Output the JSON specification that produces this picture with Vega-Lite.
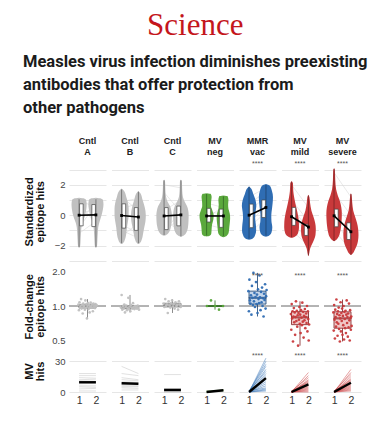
{
"$schema":"https://vega.github.io/schema/vega-lite/v6.json",
"background":"#ffffff",
"padding":{"left":22,"top":9,"right":5,"bottom":4},
"title":{"text":"Science","font":"Liberation Serif","fontSize":31,"fontWeight":"normal","color":"#c4161c","anchor":"middle","offset":12},
"config":{"font":"Liberation Sans","view":{"stroke":null},
"axis":{"domain":false,"ticks":false,"labelOverlap":false,"labelFont":"Liberation Sans","labelColor":"#444444","labelFontSize":9.5,"gridColor":"#e6e6e6","titleFont":"Liberation Sans","titleFontWeight":"bold","titleFontSize":11,"titleColor":"#111111","titleLineHeight":11}},
"spacing":0,
"datasets":{
"top":[
{"s":"vio","g":"Cntl A","t":1,"v":1.15,"w":0},{"s":"vio","g":"Cntl A","t":1,"v":1.1,"w":0.3},{"s":"vio","g":"Cntl A","t":1,"v":1.0,"w":0.42},{"s":"vio","g":"Cntl A","t":1,"v":0.7,"w":0.45},{"s":"vio","g":"Cntl A","t":1,"v":0.4,"w":0.43},{"s":"vio","g":"Cntl A","t":1,"v":0.1,"w":0.38},{"s":"vio","g":"Cntl A","t":1,"v":-0.2,"w":0.3},{"s":"vio","g":"Cntl A","t":1,"v":-0.5,"w":0.2},{"s":"vio","g":"Cntl A","t":1,"v":-0.8,"w":0.14},{"s":"vio","g":"Cntl A","t":1,"v":-1.2,"w":0.11},{"s":"vio","g":"Cntl A","t":1,"v":-1.6,"w":0.09},{"s":"vio","g":"Cntl A","t":1,"v":-2.0,"w":0.07},{"s":"vio","g":"Cntl A","t":1,"v":-2.15,"w":0},
{"s":"vio","g":"Cntl A","t":2,"v":1.15,"w":0},{"s":"vio","g":"Cntl A","t":2,"v":1.1,"w":0.3},{"s":"vio","g":"Cntl A","t":2,"v":1.0,"w":0.42},{"s":"vio","g":"Cntl A","t":2,"v":0.7,"w":0.45},{"s":"vio","g":"Cntl A","t":2,"v":0.4,"w":0.42},{"s":"vio","g":"Cntl A","t":2,"v":0.1,"w":0.36},{"s":"vio","g":"Cntl A","t":2,"v":-0.2,"w":0.28},{"s":"vio","g":"Cntl A","t":2,"v":-0.5,"w":0.2},{"s":"vio","g":"Cntl A","t":2,"v":-0.8,"w":0.14},{"s":"vio","g":"Cntl A","t":2,"v":-1.2,"w":0.11},{"s":"vio","g":"Cntl A","t":2,"v":-1.6,"w":0.09},{"s":"vio","g":"Cntl A","t":2,"v":-2.0,"w":0.07},{"s":"vio","g":"Cntl A","t":2,"v":-2.15,"w":0},
{"s":"vio","g":"Cntl B","t":1,"v":1.75,"w":0},{"s":"vio","g":"Cntl B","t":1,"v":1.6,"w":0.15},{"s":"vio","g":"Cntl B","t":1,"v":1.2,"w":0.28},{"s":"vio","g":"Cntl B","t":1,"v":0.8,"w":0.38},{"s":"vio","g":"Cntl B","t":1,"v":0.4,"w":0.42},{"s":"vio","g":"Cntl B","t":1,"v":0,"w":0.42},{"s":"vio","g":"Cntl B","t":1,"v":-0.4,"w":0.38},{"s":"vio","g":"Cntl B","t":1,"v":-0.8,"w":0.32},{"s":"vio","g":"Cntl B","t":1,"v":-1.2,"w":0.28},{"s":"vio","g":"Cntl B","t":1,"v":-1.6,"w":0.2},{"s":"vio","g":"Cntl B","t":1,"v":-1.85,"w":0.08},{"s":"vio","g":"Cntl B","t":1,"v":-1.9,"w":0},
{"s":"vio","g":"Cntl B","t":2,"v":1.6,"w":0},{"s":"vio","g":"Cntl B","t":2,"v":1.45,"w":0.12},{"s":"vio","g":"Cntl B","t":2,"v":1.0,"w":0.25},{"s":"vio","g":"Cntl B","t":2,"v":0.5,"w":0.38},{"s":"vio","g":"Cntl B","t":2,"v":0,"w":0.44},{"s":"vio","g":"Cntl B","t":2,"v":-0.4,"w":0.42},{"s":"vio","g":"Cntl B","t":2,"v":-0.8,"w":0.35},{"s":"vio","g":"Cntl B","t":2,"v":-1.2,"w":0.28},{"s":"vio","g":"Cntl B","t":2,"v":-1.6,"w":0.2},{"s":"vio","g":"Cntl B","t":2,"v":-1.85,"w":0.08},{"s":"vio","g":"Cntl B","t":2,"v":-1.9,"w":0},
{"s":"vio","g":"Cntl C","t":1,"v":2.35,"w":0},{"s":"vio","g":"Cntl C","t":1,"v":2.2,"w":0.06},{"s":"vio","g":"Cntl C","t":1,"v":1.6,"w":0.08},{"s":"vio","g":"Cntl C","t":1,"v":1.2,"w":0.12},{"s":"vio","g":"Cntl C","t":1,"v":0.9,"w":0.2},{"s":"vio","g":"Cntl C","t":1,"v":0.6,"w":0.35},{"s":"vio","g":"Cntl C","t":1,"v":0.3,"w":0.43},{"s":"vio","g":"Cntl C","t":1,"v":0,"w":0.46},{"s":"vio","g":"Cntl C","t":1,"v":-0.4,"w":0.45},{"s":"vio","g":"Cntl C","t":1,"v":-0.8,"w":0.4},{"s":"vio","g":"Cntl C","t":1,"v":-1.1,"w":0.3},{"s":"vio","g":"Cntl C","t":1,"v":-1.3,"w":0.12},{"s":"vio","g":"Cntl C","t":1,"v":-1.35,"w":0},
{"s":"vio","g":"Cntl C","t":2,"v":2.35,"w":0},{"s":"vio","g":"Cntl C","t":2,"v":2.2,"w":0.06},{"s":"vio","g":"Cntl C","t":2,"v":1.6,"w":0.08},{"s":"vio","g":"Cntl C","t":2,"v":1.2,"w":0.12},{"s":"vio","g":"Cntl C","t":2,"v":0.9,"w":0.22},{"s":"vio","g":"Cntl C","t":2,"v":0.6,"w":0.36},{"s":"vio","g":"Cntl C","t":2,"v":0.3,"w":0.44},{"s":"vio","g":"Cntl C","t":2,"v":0,"w":0.46},{"s":"vio","g":"Cntl C","t":2,"v":-0.4,"w":0.45},{"s":"vio","g":"Cntl C","t":2,"v":-0.8,"w":0.42},{"s":"vio","g":"Cntl C","t":2,"v":-1.1,"w":0.34},{"s":"vio","g":"Cntl C","t":2,"v":-1.35,"w":0.15},{"s":"vio","g":"Cntl C","t":2,"v":-1.42,"w":0},
{"s":"vio","g":"MV neg","t":1,"v":1.45,"w":0},{"s":"vio","g":"MV neg","t":1,"v":1.4,"w":0.25},{"s":"vio","g":"MV neg","t":1,"v":1.2,"w":0.3},{"s":"vio","g":"MV neg","t":1,"v":0.9,"w":0.27},{"s":"vio","g":"MV neg","t":1,"v":0.6,"w":0.26},{"s":"vio","g":"MV neg","t":1,"v":0.3,"w":0.35},{"s":"vio","g":"MV neg","t":1,"v":0,"w":0.42},{"s":"vio","g":"MV neg","t":1,"v":-0.3,"w":0.4},{"s":"vio","g":"MV neg","t":1,"v":-0.6,"w":0.33},{"s":"vio","g":"MV neg","t":1,"v":-0.9,"w":0.3},{"s":"vio","g":"MV neg","t":1,"v":-1.2,"w":0.28},{"s":"vio","g":"MV neg","t":1,"v":-1.35,"w":0.18},{"s":"vio","g":"MV neg","t":1,"v":-1.4,"w":0},
{"s":"vio","g":"MV neg","t":2,"v":1.3,"w":0},{"s":"vio","g":"MV neg","t":2,"v":1.25,"w":0.25},{"s":"vio","g":"MV neg","t":2,"v":1.0,"w":0.3},{"s":"vio","g":"MV neg","t":2,"v":0.7,"w":0.28},{"s":"vio","g":"MV neg","t":2,"v":0.4,"w":0.3},{"s":"vio","g":"MV neg","t":2,"v":0.1,"w":0.38},{"s":"vio","g":"MV neg","t":2,"v":-0.2,"w":0.4},{"s":"vio","g":"MV neg","t":2,"v":-0.5,"w":0.38},{"s":"vio","g":"MV neg","t":2,"v":-0.8,"w":0.35},{"s":"vio","g":"MV neg","t":2,"v":-1.1,"w":0.32},{"s":"vio","g":"MV neg","t":2,"v":-1.35,"w":0.2},{"s":"vio","g":"MV neg","t":2,"v":-1.45,"w":0},
{"s":"vio","g":"MMR vac","t":1,"v":1.9,"w":0},{"s":"vio","g":"MMR vac","t":1,"v":1.75,"w":0.12},{"s":"vio","g":"MMR vac","t":1,"v":1.4,"w":0.25},{"s":"vio","g":"MMR vac","t":1,"v":1.0,"w":0.38},{"s":"vio","g":"MMR vac","t":1,"v":0.6,"w":0.43},{"s":"vio","g":"MMR vac","t":1,"v":0.2,"w":0.38},{"s":"vio","g":"MMR vac","t":1,"v":-0.2,"w":0.36},{"s":"vio","g":"MMR vac","t":1,"v":-0.6,"w":0.4},{"s":"vio","g":"MMR vac","t":1,"v":-1.0,"w":0.42},{"s":"vio","g":"MMR vac","t":1,"v":-1.3,"w":0.36},{"s":"vio","g":"MMR vac","t":1,"v":-1.55,"w":0.2},{"s":"vio","g":"MMR vac","t":1,"v":-1.62,"w":0},
{"s":"vio","g":"MMR vac","t":2,"v":2.05,"w":0},{"s":"vio","g":"MMR vac","t":2,"v":1.95,"w":0.22},{"s":"vio","g":"MMR vac","t":2,"v":1.6,"w":0.36},{"s":"vio","g":"MMR vac","t":2,"v":1.2,"w":0.42},{"s":"vio","g":"MMR vac","t":2,"v":0.8,"w":0.4},{"s":"vio","g":"MMR vac","t":2,"v":0.4,"w":0.36},{"s":"vio","g":"MMR vac","t":2,"v":0,"w":0.32},{"s":"vio","g":"MMR vac","t":2,"v":-0.4,"w":0.33},{"s":"vio","g":"MMR vac","t":2,"v":-0.8,"w":0.38},{"s":"vio","g":"MMR vac","t":2,"v":-1.1,"w":0.34},{"s":"vio","g":"MMR vac","t":2,"v":-1.35,"w":0.18},{"s":"vio","g":"MMR vac","t":2,"v":-1.42,"w":0},
{"s":"vio","g":"MV mild","t":1,"v":2.25,"w":0},{"s":"vio","g":"MV mild","t":1,"v":2.1,"w":0.08},{"s":"vio","g":"MV mild","t":1,"v":1.6,"w":0.1},{"s":"vio","g":"MV mild","t":1,"v":1.2,"w":0.15},{"s":"vio","g":"MV mild","t":1,"v":0.8,"w":0.22},{"s":"vio","g":"MV mild","t":1,"v":0.4,"w":0.3},{"s":"vio","g":"MV mild","t":1,"v":0,"w":0.38},{"s":"vio","g":"MV mild","t":1,"v":-0.4,"w":0.43},{"s":"vio","g":"MV mild","t":1,"v":-0.8,"w":0.44},{"s":"vio","g":"MV mild","t":1,"v":-1.1,"w":0.4},{"s":"vio","g":"MV mild","t":1,"v":-1.35,"w":0.28},{"s":"vio","g":"MV mild","t":1,"v":-1.5,"w":0},
{"s":"vio","g":"MV mild","t":2,"v":1.35,"w":0},{"s":"vio","g":"MV mild","t":2,"v":1.2,"w":0.06},{"s":"vio","g":"MV mild","t":2,"v":0.8,"w":0.1},{"s":"vio","g":"MV mild","t":2,"v":0.3,"w":0.18},{"s":"vio","g":"MV mild","t":2,"v":-0.1,"w":0.3},{"s":"vio","g":"MV mild","t":2,"v":-0.5,"w":0.4},{"s":"vio","g":"MV mild","t":2,"v":-0.9,"w":0.44},{"s":"vio","g":"MV mild","t":2,"v":-1.3,"w":0.42},{"s":"vio","g":"MV mild","t":2,"v":-1.6,"w":0.34},{"s":"vio","g":"MV mild","t":2,"v":-1.9,"w":0.22},{"s":"vio","g":"MV mild","t":2,"v":-2.2,"w":0.1},{"s":"vio","g":"MV mild","t":2,"v":-2.5,"w":0.05},{"s":"vio","g":"MV mild","t":2,"v":-2.7,"w":0},
{"s":"vio","g":"MV severe","t":1,"v":3.1,"w":0},{"s":"vio","g":"MV severe","t":1,"v":2.9,"w":0.05},{"s":"vio","g":"MV severe","t":1,"v":2.3,"w":0.07},{"s":"vio","g":"MV severe","t":1,"v":1.7,"w":0.12},{"s":"vio","g":"MV severe","t":1,"v":1.3,"w":0.22},{"s":"vio","g":"MV severe","t":1,"v":0.9,"w":0.35},{"s":"vio","g":"MV severe","t":1,"v":0.5,"w":0.43},{"s":"vio","g":"MV severe","t":1,"v":0.1,"w":0.46},{"s":"vio","g":"MV severe","t":1,"v":-0.3,"w":0.45},{"s":"vio","g":"MV severe","t":1,"v":-0.7,"w":0.42},{"s":"vio","g":"MV severe","t":1,"v":-1.1,"w":0.36},{"s":"vio","g":"MV severe","t":1,"v":-1.45,"w":0.25},{"s":"vio","g":"MV severe","t":1,"v":-1.65,"w":0.1},{"s":"vio","g":"MV severe","t":1,"v":-1.72,"w":0},
{"s":"vio","g":"MV severe","t":2,"v":1.45,"w":0},{"s":"vio","g":"MV severe","t":2,"v":1.3,"w":0.04},{"s":"vio","g":"MV severe","t":2,"v":0.8,"w":0.08},{"s":"vio","g":"MV severe","t":2,"v":0.3,"w":0.14},{"s":"vio","g":"MV severe","t":2,"v":-0.1,"w":0.25},{"s":"vio","g":"MV severe","t":2,"v":-0.5,"w":0.36},{"s":"vio","g":"MV severe","t":2,"v":-0.9,"w":0.43},{"s":"vio","g":"MV severe","t":2,"v":-1.3,"w":0.45},{"s":"vio","g":"MV severe","t":2,"v":-1.7,"w":0.42},{"s":"vio","g":"MV severe","t":2,"v":-2.0,"w":0.35},{"s":"vio","g":"MV severe","t":2,"v":-2.3,"w":0.22},{"s":"vio","g":"MV severe","t":2,"v":-2.55,"w":0.08},{"s":"vio","g":"MV severe","t":2,"v":-2.62,"w":0},
{"s":"box","g":"Cntl A","t":1,"lo":-2.1,"q1":-0.7,"med":0,"q3":0.75,"hi":1.05},
{"s":"box","g":"Cntl A","t":2,"lo":-2.1,"q1":-0.75,"med":0.02,"q3":0.7,"hi":1.05},
{"s":"box","g":"Cntl B","t":1,"lo":-1.85,"q1":-0.85,"med":-0.02,"q3":0.75,"hi":1.7},
{"s":"box","g":"Cntl B","t":2,"lo":-1.85,"q1":-1.0,"med":-0.12,"q3":0.5,"hi":1.55},
{"s":"box","g":"Cntl C","t":1,"lo":-1.3,"q1":-0.95,"med":-0.05,"q3":0.5,"hi":2.3},
{"s":"box","g":"Cntl C","t":2,"lo":-1.4,"q1":-0.7,"med":0.02,"q3":0.6,"hi":2.3},
{"s":"box","g":"MV neg","t":1,"lo":-1.35,"q1":-0.45,"med":-0.05,"q3":0.45,"hi":1.4},
{"s":"box","g":"MV neg","t":2,"lo":-1.4,"q1":-0.8,"med":-0.05,"q3":0.4,"hi":1.25},
{"s":"box","g":"MMR vac","t":1,"lo":-1.55,"q1":-0.82,"med":0,"q3":0.73,"hi":1.85},
{"s":"box","g":"MMR vac","t":2,"lo":-1.35,"q1":-0.15,"med":0.51,"q3":1.0,"hi":2.0},
{"s":"box","g":"MV mild","t":1,"lo":-1.45,"q1":-0.67,"med":-0.1,"q3":0.51,"hi":2.2},
{"s":"box","g":"MV mild","t":2,"lo":-2.65,"q1":-1.33,"med":-0.78,"q3":-0.6,"hi":1.3},
{"s":"box","g":"MV severe","t":1,"lo":-1.7,"q1":-0.76,"med":-0.04,"q3":0.4,"hi":3.05},
{"s":"box","g":"MV severe","t":2,"lo":-2.6,"q1":-1.6,"med":-1.09,"q3":-0.5,"hi":1.4},
{"s":"spg","g":"Cntl A","i":1,"t":1,"v":0.8},{"s":"spg","g":"Cntl A","i":1,"t":2,"v":-0.6},{"s":"spg","g":"Cntl A","i":2,"t":1,"v":-0.5},{"s":"spg","g":"Cntl A","i":2,"t":2,"v":0.9},{"s":"spg","g":"Cntl A","i":3,"t":1,"v":0.2},{"s":"spg","g":"Cntl A","i":3,"t":2,"v":0.3},{"s":"spg","g":"Cntl A","i":4,"t":1,"v":-1.2},{"s":"spg","g":"Cntl A","i":4,"t":2,"v":-0.4},{"s":"spg","g":"Cntl A","i":5,"t":1,"v":1.0},{"s":"spg","g":"Cntl A","i":5,"t":2,"v":0.5},{"s":"spg","g":"Cntl A","i":6,"t":1,"v":-0.8},{"s":"spg","g":"Cntl A","i":6,"t":2,"v":0.7},
{"s":"spg","g":"Cntl B","i":1,"t":1,"v":1.2},{"s":"spg","g":"Cntl B","i":1,"t":2,"v":0.3},{"s":"spg","g":"Cntl B","i":2,"t":1,"v":-0.6},{"s":"spg","g":"Cntl B","i":2,"t":2,"v":-1.2},{"s":"spg","g":"Cntl B","i":3,"t":1,"v":0.4},{"s":"spg","g":"Cntl B","i":3,"t":2,"v":0.8},{"s":"spg","g":"Cntl B","i":4,"t":1,"v":-1.4},{"s":"spg","g":"Cntl B","i":4,"t":2,"v":-0.5},{"s":"spg","g":"Cntl B","i":5,"t":1,"v":0.9},{"s":"spg","g":"Cntl B","i":5,"t":2,"v":1.1},{"s":"spg","g":"Cntl B","i":6,"t":1,"v":-1.0},{"s":"spg","g":"Cntl B","i":6,"t":2,"v":-1.5},
{"s":"spg","g":"Cntl C","i":1,"t":1,"v":1.5},{"s":"spg","g":"Cntl C","i":1,"t":2,"v":0.2},{"s":"spg","g":"Cntl C","i":2,"t":1,"v":-0.9},{"s":"spg","g":"Cntl C","i":2,"t":2,"v":-0.3},{"s":"spg","g":"Cntl C","i":3,"t":1,"v":0.3},{"s":"spg","g":"Cntl C","i":3,"t":2,"v":1.0},{"s":"spg","g":"Cntl C","i":4,"t":1,"v":-0.4},{"s":"spg","g":"Cntl C","i":4,"t":2,"v":-1.0},{"s":"spg","g":"Cntl C","i":5,"t":1,"v":-1.1},{"s":"spg","g":"Cntl C","i":5,"t":2,"v":0.3},{"s":"spg","g":"Cntl C","i":6,"t":1,"v":2.0},{"s":"spg","g":"Cntl C","i":6,"t":2,"v":1.8},
{"s":"spg","g":"MV neg","i":1,"t":1,"v":0.8},{"s":"spg","g":"MV neg","i":1,"t":2,"v":0.5},{"s":"spg","g":"MV neg","i":2,"t":1,"v":-0.6},{"s":"spg","g":"MV neg","i":2,"t":2,"v":-0.9},{"s":"spg","g":"MV neg","i":3,"t":1,"v":0.2},{"s":"spg","g":"MV neg","i":3,"t":2,"v":0.1},{"s":"spg","g":"MV neg","i":4,"t":1,"v":-0.2},{"s":"spg","g":"MV neg","i":4,"t":2,"v":0.6},
{"s":"spg","g":"MMR vac","i":1,"t":1,"v":-1.2},{"s":"spg","g":"MMR vac","i":1,"t":2,"v":-0.2},{"s":"spg","g":"MMR vac","i":2,"t":1,"v":-0.5},{"s":"spg","g":"MMR vac","i":2,"t":2,"v":0.6},{"s":"spg","g":"MMR vac","i":3,"t":1,"v":0.3},{"s":"spg","g":"MMR vac","i":3,"t":2,"v":1.2},{"s":"spg","g":"MMR vac","i":4,"t":1,"v":0.8},{"s":"spg","g":"MMR vac","i":4,"t":2,"v":1.5},{"s":"spg","g":"MMR vac","i":5,"t":1,"v":-0.8},{"s":"spg","g":"MMR vac","i":5,"t":2,"v":0.2},{"s":"spg","g":"MMR vac","i":6,"t":1,"v":1.2},{"s":"spg","g":"MMR vac","i":6,"t":2,"v":1.8},
{"s":"spg","g":"MV mild","i":1,"t":1,"v":2.0},{"s":"spg","g":"MV mild","i":1,"t":2,"v":0.5},{"s":"spg","g":"MV mild","i":2,"t":1,"v":1.0},{"s":"spg","g":"MV mild","i":2,"t":2,"v":-0.4},{"s":"spg","g":"MV mild","i":3,"t":1,"v":0.5},{"s":"spg","g":"MV mild","i":3,"t":2,"v":-0.9},{"s":"spg","g":"MV mild","i":4,"t":1,"v":0.0},{"s":"spg","g":"MV mild","i":4,"t":2,"v":-1.2},{"s":"spg","g":"MV mild","i":5,"t":1,"v":-0.5},{"s":"spg","g":"MV mild","i":5,"t":2,"v":-1.6},{"s":"spg","g":"MV mild","i":6,"t":1,"v":-1.0},{"s":"spg","g":"MV mild","i":6,"t":2,"v":-2.0},
{"s":"spg","g":"MV severe","i":1,"t":1,"v":2.8},{"s":"spg","g":"MV severe","i":1,"t":2,"v":1.2},{"s":"spg","g":"MV severe","i":2,"t":1,"v":1.5},{"s":"spg","g":"MV severe","i":2,"t":2,"v":0.0},{"s":"spg","g":"MV severe","i":3,"t":1,"v":0.8},{"s":"spg","g":"MV severe","i":3,"t":2,"v":-0.6},{"s":"spg","g":"MV severe","i":4,"t":1,"v":0.2},{"s":"spg","g":"MV severe","i":4,"t":2,"v":-1.2},{"s":"spg","g":"MV severe","i":5,"t":1,"v":-0.4},{"s":"spg","g":"MV severe","i":5,"t":2,"v":-1.8},{"s":"spg","g":"MV severe","i":6,"t":1,"v":-1.0},{"s":"spg","g":"MV severe","i":6,"t":2,"v":-2.3},
{"s":"sig","g":"MMR vac","lab":"****"},{"s":"sig","g":"MV mild","lab":"****"},{"s":"sig","g":"MV severe","lab":"****"}
],
"mid":[
{"s":"fc","g":"Cntl A","i":1,"f":1.03},{"s":"fc","g":"Cntl A","i":2,"f":0.92},{"s":"fc","g":"Cntl A","i":3,"f":1.08},{"s":"fc","g":"Cntl A","i":4,"f":0.97},{"s":"fc","g":"Cntl A","i":5,"f":1.0},{"s":"fc","g":"Cntl A","i":6,"f":1.15},{"s":"fc","g":"Cntl A","i":7,"f":0.95},{"s":"fc","g":"Cntl A","i":8,"f":1.02},{"s":"fc","g":"Cntl A","i":9,"f":0.86},{"s":"fc","g":"Cntl A","i":10,"f":1.05},{"s":"fc","g":"Cntl A","i":11,"f":0.99},{"s":"fc","g":"Cntl A","i":12,"f":1.01},{"s":"fc","g":"Cntl A","i":13,"f":0.93},{"s":"fc","g":"Cntl A","i":14,"f":1.12},{"s":"fc","g":"Cntl A","i":15,"f":0.96},{"s":"fc","g":"Cntl A","i":16,"f":1.04},{"s":"fc","g":"Cntl A","i":17,"f":0.78},{"s":"fc","g":"Cntl A","i":18,"f":1.0},{"s":"fc","g":"Cntl A","i":19,"f":1.06},{"s":"fc","g":"Cntl A","i":20,"f":0.94},{"s":"fc","g":"Cntl A","i":21,"f":1.02},{"s":"fc","g":"Cntl A","i":22,"f":0.88},{"s":"fc","g":"Cntl A","i":23,"f":0.98},{"s":"fc","g":"Cntl A","i":24,"f":1.07},{"s":"fc","g":"Cntl A","i":25,"f":1.0},{"s":"fc","g":"Cntl A","i":26,"f":0.97},{"s":"fc","g":"Cntl A","i":27,"f":1.03},{"s":"fc","g":"Cntl A","i":28,"f":0.9},{"s":"fc","g":"Cntl A","i":29,"f":1.05},{"s":"fc","g":"Cntl A","i":30,"f":0.99},{"s":"fc","g":"Cntl A","i":31,"f":1.01},{"s":"fc","g":"Cntl A","i":32,"f":0.96},{"s":"fc","g":"Cntl A","i":33,"f":1.04},{"s":"fc","g":"Cntl A","i":34,"f":1.0},{"s":"fc","g":"Cntl A","i":35,"f":1.02},
{"s":"fc","g":"Cntl B","i":1,"f":0.97},{"s":"fc","g":"Cntl B","i":2,"f":1.25},{"s":"fc","g":"Cntl B","i":3,"f":0.93},{"s":"fc","g":"Cntl B","i":4,"f":1.0},{"s":"fc","g":"Cntl B","i":5,"f":0.95},{"s":"fc","g":"Cntl B","i":6,"f":1.03},{"s":"fc","g":"Cntl B","i":7,"f":0.88},{"s":"fc","g":"Cntl B","i":8,"f":0.98},{"s":"fc","g":"Cntl B","i":9,"f":1.01},{"s":"fc","g":"Cntl B","i":10,"f":0.92},{"s":"fc","g":"Cntl B","i":11,"f":0.96},{"s":"fc","g":"Cntl B","i":12,"f":1.18},{"s":"fc","g":"Cntl B","i":13,"f":0.94},{"s":"fc","g":"Cntl B","i":14,"f":0.99},{"s":"fc","g":"Cntl B","i":15,"f":0.9},{"s":"fc","g":"Cntl B","i":16,"f":1.02},{"s":"fc","g":"Cntl B","i":17,"f":0.97},{"s":"fc","g":"Cntl B","i":18,"f":0.95},{"s":"fc","g":"Cntl B","i":19,"f":1.06},{"s":"fc","g":"Cntl B","i":20,"f":0.98},{"s":"fc","g":"Cntl B","i":21,"f":0.94},{"s":"fc","g":"Cntl B","i":22,"f":1.0},{"s":"fc","g":"Cntl B","i":23,"f":0.96},{"s":"fc","g":"Cntl B","i":24,"f":0.99},{"s":"fc","g":"Cntl B","i":25,"f":0.95},{"s":"fc","g":"Cntl B","i":26,"f":1.01},{"s":"fc","g":"Cntl B","i":27,"f":0.97},{"s":"fc","g":"Cntl B","i":28,"f":0.93},
{"s":"fc","g":"Cntl C","i":1,"f":1.05},{"s":"fc","g":"Cntl C","i":2,"f":0.98},{"s":"fc","g":"Cntl C","i":3,"f":1.15},{"s":"fc","g":"Cntl C","i":4,"f":1.0},{"s":"fc","g":"Cntl C","i":5,"f":1.03},{"s":"fc","g":"Cntl C","i":6,"f":0.87},{"s":"fc","g":"Cntl C","i":7,"f":1.1},{"s":"fc","g":"Cntl C","i":8,"f":1.01},{"s":"fc","g":"Cntl C","i":9,"f":0.97},{"s":"fc","g":"Cntl C","i":10,"f":1.06},{"s":"fc","g":"Cntl C","i":11,"f":1.12},{"s":"fc","g":"Cntl C","i":12,"f":0.99},{"s":"fc","g":"Cntl C","i":13,"f":1.04},{"s":"fc","g":"Cntl C","i":14,"f":0.95},{"s":"fc","g":"Cntl C","i":15,"f":1.08},{"s":"fc","g":"Cntl C","i":16,"f":1.0},{"s":"fc","g":"Cntl C","i":17,"f":1.02},{"s":"fc","g":"Cntl C","i":18,"f":0.93},{"s":"fc","g":"Cntl C","i":19,"f":1.1},{"s":"fc","g":"Cntl C","i":20,"f":1.03},{"s":"fc","g":"Cntl C","i":21,"f":0.98},{"s":"fc","g":"Cntl C","i":22,"f":1.0},
{"s":"fc","g":"MV neg","i":1,"f":1.0},{"s":"fc","g":"MV neg","i":2,"f":1.12},{"s":"fc","g":"MV neg","i":3,"f":1.0},{"s":"fc","g":"MV neg","i":4,"f":0.93},{"s":"fc","g":"MV neg","i":5,"f":1.0},
{"s":"fc","g":"MMR vac","i":1,"f":1.35},{"s":"fc","g":"MMR vac","i":2,"f":0.9},{"s":"fc","g":"MMR vac","i":3,"f":1.7},{"s":"fc","g":"MMR vac","i":4,"f":1.12},{"s":"fc","g":"MMR vac","i":5,"f":1.05},{"s":"fc","g":"MMR vac","i":6,"f":1.24},{"s":"fc","g":"MMR vac","i":7,"f":0.84},{"s":"fc","g":"MMR vac","i":8,"f":1.5},{"s":"fc","g":"MMR vac","i":9,"f":1.18},{"s":"fc","g":"MMR vac","i":10,"f":1.02},{"s":"fc","g":"MMR vac","i":11,"f":1.95},{"s":"fc","g":"MMR vac","i":12,"f":1.1},{"s":"fc","g":"MMR vac","i":13,"f":1.3},{"s":"fc","g":"MMR vac","i":14,"f":0.98},{"s":"fc","g":"MMR vac","i":15,"f":1.2},{"s":"fc","g":"MMR vac","i":16,"f":1.62},{"s":"fc","g":"MMR vac","i":17,"f":1.04},{"s":"fc","g":"MMR vac","i":18,"f":1.26},{"s":"fc","g":"MMR vac","i":19,"f":0.87},{"s":"fc","g":"MMR vac","i":20,"f":1.4},{"s":"fc","g":"MMR vac","i":21,"f":1.15},{"s":"fc","g":"MMR vac","i":22,"f":1.06},{"s":"fc","g":"MMR vac","i":23,"f":1.85},{"s":"fc","g":"MMR vac","i":24,"f":1.19},{"s":"fc","g":"MMR vac","i":25,"f":0.92},{"s":"fc","g":"MMR vac","i":26,"f":1.33},{"s":"fc","g":"MMR vac","i":27,"f":1.08},{"s":"fc","g":"MMR vac","i":28,"f":1.45},{"s":"fc","g":"MMR vac","i":29,"f":1.0},{"s":"fc","g":"MMR vac","i":30,"f":1.17},{"s":"fc","g":"MMR vac","i":31,"f":0.81},{"s":"fc","g":"MMR vac","i":32,"f":1.28},{"s":"fc","g":"MMR vac","i":33,"f":1.13},{"s":"fc","g":"MMR vac","i":34,"f":1.55},{"s":"fc","g":"MMR vac","i":35,"f":0.95},{"s":"fc","g":"MMR vac","i":36,"f":1.22},{"s":"fc","g":"MMR vac","i":37,"f":1.38},
{"s":"fc","g":"MV mild","i":1,"f":0.85},{"s":"fc","g":"MV mild","i":2,"f":0.62},{"s":"fc","g":"MV mild","i":3,"f":1.04},{"s":"fc","g":"MV mild","i":4,"f":0.78},{"s":"fc","g":"MV mild","i":5,"f":0.9},{"s":"fc","g":"MV mild","i":6,"f":0.49},{"s":"fc","g":"MV mild","i":7,"f":0.81},{"s":"fc","g":"MV mild","i":8,"f":0.96},{"s":"fc","g":"MV mild","i":9,"f":0.72},{"s":"fc","g":"MV mild","i":10,"f":0.88},{"s":"fc","g":"MV mild","i":11,"f":0.56},{"s":"fc","g":"MV mild","i":12,"f":0.8},{"s":"fc","g":"MV mild","i":13,"f":1.1},{"s":"fc","g":"MV mild","i":14,"f":0.74},{"s":"fc","g":"MV mild","i":15,"f":0.91},{"s":"fc","g":"MV mild","i":16,"f":0.66},{"s":"fc","g":"MV mild","i":17,"f":0.83},{"s":"fc","g":"MV mild","i":18,"f":0.45},{"s":"fc","g":"MV mild","i":19,"f":0.87},{"s":"fc","g":"MV mild","i":20,"f":0.76},{"s":"fc","g":"MV mild","i":21,"f":0.98},{"s":"fc","g":"MV mild","i":22,"f":0.7},{"s":"fc","g":"MV mild","i":23,"f":0.84},{"s":"fc","g":"MV mild","i":24,"f":0.58},{"s":"fc","g":"MV mild","i":25,"f":0.92},{"s":"fc","g":"MV mild","i":26,"f":0.79},{"s":"fc","g":"MV mild","i":27,"f":0.68},{"s":"fc","g":"MV mild","i":28,"f":1.07},{"s":"fc","g":"MV mild","i":29,"f":0.73},{"s":"fc","g":"MV mild","i":30,"f":0.89},{"s":"fc","g":"MV mild","i":31,"f":0.53},{"s":"fc","g":"MV mild","i":32,"f":0.82},{"s":"fc","g":"MV mild","i":33,"f":0.75},{"s":"fc","g":"MV mild","i":34,"f":0.94},{"s":"fc","g":"MV mild","i":35,"f":0.64},{"s":"fc","g":"MV mild","i":36,"f":0.8},{"s":"fc","g":"MV mild","i":37,"f":0.86},{"s":"fc","g":"MV mild","i":38,"f":0.71},{"s":"fc","g":"MV mild","i":39,"f":1.0},{"s":"fc","g":"MV mild","i":40,"f":0.6},{"s":"fc","g":"MV mild","i":41,"f":0.9},{"s":"fc","g":"MV mild","i":42,"f":0.77},{"s":"fc","g":"MV mild","i":43,"f":0.5},{"s":"fc","g":"MV mild","i":44,"f":0.69},
{"s":"fc","g":"MV severe","i":1,"f":0.88},{"s":"fc","g":"MV severe","i":2,"f":0.61},{"s":"fc","g":"MV severe","i":3,"f":1.02},{"s":"fc","g":"MV severe","i":4,"f":0.76},{"s":"fc","g":"MV severe","i":5,"f":0.52},{"s":"fc","g":"MV severe","i":6,"f":0.93},{"s":"fc","g":"MV severe","i":7,"f":0.8},{"s":"fc","g":"MV severe","i":8,"f":0.66},{"s":"fc","g":"MV severe","i":9,"f":1.14},{"s":"fc","g":"MV severe","i":10,"f":0.72},{"s":"fc","g":"MV severe","i":11,"f":0.85},{"s":"fc","g":"MV severe","i":12,"f":0.55},{"s":"fc","g":"MV severe","i":13,"f":0.9},{"s":"fc","g":"MV severe","i":14,"f":0.7},{"s":"fc","g":"MV severe","i":15,"f":0.97},{"s":"fc","g":"MV severe","i":16,"f":0.63},{"s":"fc","g":"MV severe","i":17,"f":0.83},{"s":"fc","g":"MV severe","i":18,"f":0.49},{"s":"fc","g":"MV severe","i":19,"f":0.78},{"s":"fc","g":"MV severe","i":20,"f":1.08},{"s":"fc","g":"MV severe","i":21,"f":0.6},{"s":"fc","g":"MV severe","i":22,"f":0.87},{"s":"fc","g":"MV severe","i":23,"f":0.74},{"s":"fc","g":"MV severe","i":24,"f":0.95},{"s":"fc","g":"MV severe","i":25,"f":0.56},{"s":"fc","g":"MV severe","i":26,"f":0.82},{"s":"fc","g":"MV severe","i":27,"f":0.68},{"s":"fc","g":"MV severe","i":28,"f":1.0},{"s":"fc","g":"MV severe","i":29,"f":0.51},{"s":"fc","g":"MV severe","i":30,"f":0.89},{"s":"fc","g":"MV severe","i":31,"f":0.77},{"s":"fc","g":"MV severe","i":32,"f":0.64},{"s":"fc","g":"MV severe","i":33,"f":0.91},{"s":"fc","g":"MV severe","i":34,"f":0.58},{"s":"fc","g":"MV severe","i":35,"f":0.84},{"s":"fc","g":"MV severe","i":36,"f":1.12},{"s":"fc","g":"MV severe","i":37,"f":0.71},{"s":"fc","g":"MV severe","i":38,"f":0.8},{"s":"fc","g":"MV severe","i":39,"f":0.54},{"s":"fc","g":"MV severe","i":40,"f":0.86},{"s":"fc","g":"MV severe","i":41,"f":0.65},{"s":"fc","g":"MV severe","i":42,"f":1.05},{"s":"fc","g":"MV severe","i":43,"f":0.75},{"s":"fc","g":"MV severe","i":44,"f":0.5},{"s":"fc","g":"MV severe","i":45,"f":0.92},{"s":"fc","g":"MV severe","i":46,"f":0.79},{"s":"fc","g":"MV severe","i":47,"f":0.62},{"s":"fc","g":"MV severe","i":48,"f":0.81},{"s":"fc","g":"MV severe","i":49,"f":0.67},
{"s":"sig","g":"MMR vac","lab":"****"},{"s":"sig","g":"MV mild","lab":"****"},{"s":"sig","g":"MV severe","lab":"****"}
],
"bot":[
{"s":"h","g":"Cntl A","i":1,"t":1,"h":1},{"s":"h","g":"Cntl A","i":1,"t":2,"h":1},{"s":"h","g":"Cntl A","i":2,"t":1,"h":3},{"s":"h","g":"Cntl A","i":2,"t":2,"h":3.5},{"s":"h","g":"Cntl A","i":3,"t":1,"h":5},{"s":"h","g":"Cntl A","i":3,"t":2,"h":4.5},{"s":"h","g":"Cntl A","i":4,"t":1,"h":6},{"s":"h","g":"Cntl A","i":4,"t":2,"h":6},{"s":"h","g":"Cntl A","i":5,"t":1,"h":8},{"s":"h","g":"Cntl A","i":5,"t":2,"h":8.5},{"s":"h","g":"Cntl A","i":6,"t":1,"h":9},{"s":"h","g":"Cntl A","i":6,"t":2,"h":9},{"s":"h","g":"Cntl A","i":7,"t":1,"h":10},{"s":"h","g":"Cntl A","i":7,"t":2,"h":10},{"s":"h","g":"Cntl A","i":8,"t":1,"h":11},{"s":"h","g":"Cntl A","i":8,"t":2,"h":10.5},{"s":"h","g":"Cntl A","i":9,"t":1,"h":12},{"s":"h","g":"Cntl A","i":9,"t":2,"h":12.5},{"s":"h","g":"Cntl A","i":10,"t":1,"h":14},{"s":"h","g":"Cntl A","i":10,"t":2,"h":13.5},{"s":"h","g":"Cntl A","i":11,"t":1,"h":16},{"s":"h","g":"Cntl A","i":11,"t":2,"h":16},{"s":"h","g":"Cntl A","i":12,"t":1,"h":18},{"s":"h","g":"Cntl A","i":12,"t":2,"h":18},
{"s":"h","g":"Cntl B","i":1,"t":1,"h":2},{"s":"h","g":"Cntl B","i":1,"t":2,"h":2},{"s":"h","g":"Cntl B","i":2,"t":1,"h":4},{"s":"h","g":"Cntl B","i":2,"t":2,"h":3.5},{"s":"h","g":"Cntl B","i":3,"t":1,"h":5},{"s":"h","g":"Cntl B","i":3,"t":2,"h":5},{"s":"h","g":"Cntl B","i":4,"t":1,"h":6},{"s":"h","g":"Cntl B","i":4,"t":2,"h":5.5},{"s":"h","g":"Cntl B","i":5,"t":1,"h":7},{"s":"h","g":"Cntl B","i":5,"t":2,"h":6.5},{"s":"h","g":"Cntl B","i":6,"t":1,"h":8},{"s":"h","g":"Cntl B","i":6,"t":2,"h":8},{"s":"h","g":"Cntl B","i":7,"t":1,"h":9},{"s":"h","g":"Cntl B","i":7,"t":2,"h":8},{"s":"h","g":"Cntl B","i":8,"t":1,"h":10},{"s":"h","g":"Cntl B","i":8,"t":2,"h":9.5},{"s":"h","g":"Cntl B","i":9,"t":1,"h":12},{"s":"h","g":"Cntl B","i":9,"t":2,"h":11},{"s":"h","g":"Cntl B","i":10,"t":1,"h":14},{"s":"h","g":"Cntl B","i":10,"t":2,"h":12},{"s":"h","g":"Cntl B","i":11,"t":1,"h":18},{"s":"h","g":"Cntl B","i":11,"t":2,"h":16},{"s":"h","g":"Cntl B","i":12,"t":1,"h":25},{"s":"h","g":"Cntl B","i":12,"t":2,"h":18},
{"s":"h","g":"Cntl C","i":1,"t":1,"h":0},{"s":"h","g":"Cntl C","i":1,"t":2,"h":0},{"s":"h","g":"Cntl C","i":2,"t":1,"h":0},{"s":"h","g":"Cntl C","i":2,"t":2,"h":0},{"s":"h","g":"Cntl C","i":3,"t":1,"h":1},{"s":"h","g":"Cntl C","i":3,"t":2,"h":1},{"s":"h","g":"Cntl C","i":4,"t":1,"h":1},{"s":"h","g":"Cntl C","i":4,"t":2,"h":1},{"s":"h","g":"Cntl C","i":5,"t":1,"h":1},{"s":"h","g":"Cntl C","i":5,"t":2,"h":1},{"s":"h","g":"Cntl C","i":6,"t":1,"h":2},{"s":"h","g":"Cntl C","i":6,"t":2,"h":2},{"s":"h","g":"Cntl C","i":7,"t":1,"h":2},{"s":"h","g":"Cntl C","i":7,"t":2,"h":2},{"s":"h","g":"Cntl C","i":8,"t":1,"h":2},{"s":"h","g":"Cntl C","i":8,"t":2,"h":2},{"s":"h","g":"Cntl C","i":9,"t":1,"h":3},{"s":"h","g":"Cntl C","i":9,"t":2,"h":3},{"s":"h","g":"Cntl C","i":10,"t":1,"h":3},{"s":"h","g":"Cntl C","i":10,"t":2,"h":3},{"s":"h","g":"Cntl C","i":11,"t":1,"h":17},{"s":"h","g":"Cntl C","i":11,"t":2,"h":17},
{"s":"h","g":"MV neg","i":1,"t":1,"h":0},{"s":"h","g":"MV neg","i":1,"t":2,"h":2},{"s":"h","g":"MV neg","i":2,"t":1,"h":0},{"s":"h","g":"MV neg","i":2,"t":2,"h":1},{"s":"h","g":"MV neg","i":3,"t":1,"h":1},{"s":"h","g":"MV neg","i":3,"t":2,"h":2},{"s":"h","g":"MV neg","i":4,"t":1,"h":0},{"s":"h","g":"MV neg","i":4,"t":2,"h":1.5},
{"s":"h","g":"MMR vac","i":1,"t":1,"h":0},{"s":"h","g":"MMR vac","i":1,"t":2,"h":33},{"s":"h","g":"MMR vac","i":2,"t":1,"h":0},{"s":"h","g":"MMR vac","i":2,"t":2,"h":30},{"s":"h","g":"MMR vac","i":3,"t":1,"h":1},{"s":"h","g":"MMR vac","i":3,"t":2,"h":27},{"s":"h","g":"MMR vac","i":4,"t":1,"h":0},{"s":"h","g":"MMR vac","i":4,"t":2,"h":25},{"s":"h","g":"MMR vac","i":5,"t":1,"h":0},{"s":"h","g":"MMR vac","i":5,"t":2,"h":22},{"s":"h","g":"MMR vac","i":6,"t":1,"h":1},{"s":"h","g":"MMR vac","i":6,"t":2,"h":20},{"s":"h","g":"MMR vac","i":7,"t":1,"h":0},{"s":"h","g":"MMR vac","i":7,"t":2,"h":18},{"s":"h","g":"MMR vac","i":8,"t":1,"h":0},{"s":"h","g":"MMR vac","i":8,"t":2,"h":16},{"s":"h","g":"MMR vac","i":9,"t":1,"h":0},{"s":"h","g":"MMR vac","i":9,"t":2,"h":14},{"s":"h","g":"MMR vac","i":10,"t":1,"h":1},{"s":"h","g":"MMR vac","i":10,"t":2,"h":13},{"s":"h","g":"MMR vac","i":11,"t":1,"h":0},{"s":"h","g":"MMR vac","i":11,"t":2,"h":12},{"s":"h","g":"MMR vac","i":12,"t":1,"h":0},{"s":"h","g":"MMR vac","i":12,"t":2,"h":10},{"s":"h","g":"MMR vac","i":13,"t":1,"h":0},{"s":"h","g":"MMR vac","i":13,"t":2,"h":8},{"s":"h","g":"MMR vac","i":14,"t":1,"h":0},{"s":"h","g":"MMR vac","i":14,"t":2,"h":6},{"s":"h","g":"MMR vac","i":15,"t":1,"h":1},{"s":"h","g":"MMR vac","i":15,"t":2,"h":4},{"s":"h","g":"MMR vac","i":16,"t":1,"h":0},{"s":"h","g":"MMR vac","i":16,"t":2,"h":3},{"s":"h","g":"MMR vac","i":17,"t":1,"h":0},{"s":"h","g":"MMR vac","i":17,"t":2,"h":2},{"s":"h","g":"MMR vac","i":18,"t":1,"h":0},{"s":"h","g":"MMR vac","i":18,"t":2,"h":1},
{"s":"h","g":"MV mild","i":1,"t":1,"h":0},{"s":"h","g":"MV mild","i":1,"t":2,"h":19},{"s":"h","g":"MV mild","i":2,"t":1,"h":0},{"s":"h","g":"MV mild","i":2,"t":2,"h":16},{"s":"h","g":"MV mild","i":3,"t":1,"h":1},{"s":"h","g":"MV mild","i":3,"t":2,"h":14},{"s":"h","g":"MV mild","i":4,"t":1,"h":0},{"s":"h","g":"MV mild","i":4,"t":2,"h":12},{"s":"h","g":"MV mild","i":5,"t":1,"h":0},{"s":"h","g":"MV mild","i":5,"t":2,"h":11},{"s":"h","g":"MV mild","i":6,"t":1,"h":0},{"s":"h","g":"MV mild","i":6,"t":2,"h":10},{"s":"h","g":"MV mild","i":7,"t":1,"h":1},{"s":"h","g":"MV mild","i":7,"t":2,"h":9},{"s":"h","g":"MV mild","i":8,"t":1,"h":0},{"s":"h","g":"MV mild","i":8,"t":2,"h":8},{"s":"h","g":"MV mild","i":9,"t":1,"h":0},{"s":"h","g":"MV mild","i":9,"t":2,"h":7},{"s":"h","g":"MV mild","i":10,"t":1,"h":0},{"s":"h","g":"MV mild","i":10,"t":2,"h":6},{"s":"h","g":"MV mild","i":11,"t":1,"h":0},{"s":"h","g":"MV mild","i":11,"t":2,"h":5},{"s":"h","g":"MV mild","i":12,"t":1,"h":0},{"s":"h","g":"MV mild","i":12,"t":2,"h":4},{"s":"h","g":"MV mild","i":13,"t":1,"h":0},{"s":"h","g":"MV mild","i":13,"t":2,"h":3},{"s":"h","g":"MV mild","i":14,"t":1,"h":0},{"s":"h","g":"MV mild","i":14,"t":2,"h":2},{"s":"h","g":"MV mild","i":15,"t":1,"h":0},{"s":"h","g":"MV mild","i":15,"t":2,"h":1},{"s":"h","g":"MV mild","i":16,"t":1,"h":0},{"s":"h","g":"MV mild","i":16,"t":2,"h":0},
{"s":"h","g":"MV severe","i":1,"t":1,"h":0},{"s":"h","g":"MV severe","i":1,"t":2,"h":22},{"s":"h","g":"MV severe","i":2,"t":1,"h":0},{"s":"h","g":"MV severe","i":2,"t":2,"h":19},{"s":"h","g":"MV severe","i":3,"t":1,"h":1},{"s":"h","g":"MV severe","i":3,"t":2,"h":17},{"s":"h","g":"MV severe","i":4,"t":1,"h":0},{"s":"h","g":"MV severe","i":4,"t":2,"h":15},{"s":"h","g":"MV severe","i":5,"t":1,"h":0},{"s":"h","g":"MV severe","i":5,"t":2,"h":13},{"s":"h","g":"MV severe","i":6,"t":1,"h":0},{"s":"h","g":"MV severe","i":6,"t":2,"h":12},{"s":"h","g":"MV severe","i":7,"t":1,"h":1},{"s":"h","g":"MV severe","i":7,"t":2,"h":11},{"s":"h","g":"MV severe","i":8,"t":1,"h":0},{"s":"h","g":"MV severe","i":8,"t":2,"h":10},{"s":"h","g":"MV severe","i":9,"t":1,"h":0},{"s":"h","g":"MV severe","i":9,"t":2,"h":8},{"s":"h","g":"MV severe","i":10,"t":1,"h":0},{"s":"h","g":"MV severe","i":10,"t":2,"h":7},{"s":"h","g":"MV severe","i":11,"t":1,"h":0},{"s":"h","g":"MV severe","i":11,"t":2,"h":6},{"s":"h","g":"MV severe","i":12,"t":1,"h":0},{"s":"h","g":"MV severe","i":12,"t":2,"h":5},{"s":"h","g":"MV severe","i":13,"t":1,"h":0},{"s":"h","g":"MV severe","i":13,"t":2,"h":4},{"s":"h","g":"MV severe","i":14,"t":1,"h":0},{"s":"h","g":"MV severe","i":14,"t":2,"h":3},{"s":"h","g":"MV severe","i":15,"t":1,"h":0},{"s":"h","g":"MV severe","i":15,"t":2,"h":2},{"s":"h","g":"MV severe","i":16,"t":1,"h":0},{"s":"h","g":"MV severe","i":16,"t":2,"h":1},
{"s":"sig","g":"MMR vac","lab":"****"},{"s":"sig","g":"MV mild","lab":"****"},{"s":"sig","g":"MV severe","lab":"****"}
]
},
"vconcat":[
{
"title":{"text":["Measles virus infection diminishes preexisting","antibodies that offer protection from","other pathogens"],"anchor":"start","frame":"bounds","font":"Roboto","fontSize":16.5,"fontWeight":"bold","lineHeight":23,"color":"#1b1b1b","offset":21},
"data":{"name":"top"},
"facet":{"column":{"field":"g","type":"nominal","sort":["Cntl A","Cntl B","Cntl C","MV neg","MMR vac","MV mild","MV severe"],"title":null,"header":{"labelExpr":"split(datum.value, ' ')","labelFont":"Liberation Sans","labelFontWeight":"bold","labelFontSize":9,"labelColor":"#222222","labelLineHeight":11,"labelPadding":5}}},
"spacing":5.5,
"bounds":"flush",
"spec":{"width":37,"height":98.8,
"encoding":{"y":{"type":"quantitative","title":["Standardized","epitope hits"],"scale":{"domain":[-3,3.5],"nice":false,"zero":false},"axis":{"values":[-3,-2,-1,0,1,2,3],"labels":true,"labelExpr":"datum.value == -2 || datum.value == 0 || datum.value == 2 ? datum.label : ''","titleX":-40,"titleBaseline":"middle","labelPadding":4}}},
"layer":[
{"transform":[{"filter":{"field":"s","equal":"spg"}}],"mark":{"type":"line","strokeWidth":0.5,"color":"#d2d2d2"},
"encoding":{"x":{"field":"t","type":"quantitative","scale":{"domain":[0.4,2.6],"nice":false,"zero":false},"axis":null},
"y":{"field":"v","type":"quantitative","title":["Standardized","epitope hits"],"scale":{"domain":[-3,3.5],"nice":false,"zero":false},"axis":{"values":[-3,-2,-1,0,1,2,3],"labels":true,"labelExpr":"datum.value == -2 || datum.value == 0 || datum.value == 2 ? datum.label : ''","titleX":-40,"titleBaseline":"middle","labelPadding":4}},
"detail":{"field":"i","type":"nominal"}}},
{"transform":[{"filter":{"field":"s","equal":"vio"}},{"filter":{"field":"t","equal":1}}],"mark":{"type":"area","orient":"horizontal","interpolate":"monotone"},
"encoding":{"y":{"field":"v","type":"quantitative","title":["Standardized","epitope hits"]},"x":{"field":"w","type":"quantitative","scale":{"domain":[-0.6,1.6],"nice":false,"zero":false},"axis":null},"x2":{"datum":0},
"color":{"field":"g","type":"nominal","scale":{"domain":["Cntl A","Cntl B","Cntl C","MV neg","MMR vac","MV mild","MV severe"],"range":["#c0c0c0","#c0c0c0","#c0c0c0","#5aa83c","#2f6db3","#c8393b","#c8393b"]},"legend":null}}},
{"transform":[{"filter":{"field":"s","equal":"vio"}},{"filter":{"field":"t","equal":1}}],"mark":{"type":"area","orient":"horizontal","interpolate":"monotone"},
"encoding":{"y":{"field":"v","type":"quantitative","title":["Standardized","epitope hits"]},"x":{"field":"w","type":"quantitative","scale":{"domain":[-1.6,0.6],"reverse":true,"nice":false,"zero":false},"axis":null},"x2":{"datum":0},
"color":{"field":"g","type":"nominal","legend":null}}},
{"transform":[{"filter":{"field":"s","equal":"vio"}},{"filter":{"field":"t","equal":2}}],"mark":{"type":"area","orient":"horizontal","interpolate":"monotone"},
"encoding":{"y":{"field":"v","type":"quantitative","title":["Standardized","epitope hits"]},"x":{"field":"w","type":"quantitative","scale":{"domain":[-1.6,0.6],"nice":false,"zero":false},"axis":null},"x2":{"datum":0},
"color":{"field":"g","type":"nominal","legend":null}}},
{"transform":[{"filter":{"field":"s","equal":"vio"}},{"filter":{"field":"t","equal":2}}],"mark":{"type":"area","orient":"horizontal","interpolate":"monotone"},
"encoding":{"y":{"field":"v","type":"quantitative","title":["Standardized","epitope hits"]},"x":{"field":"w","type":"quantitative","scale":{"domain":[-0.6,1.6],"reverse":true,"nice":false,"zero":false},"axis":null},"x2":{"datum":0},
"color":{"field":"g","type":"nominal","legend":null}}},
{"transform":[{"filter":{"field":"s","equal":"box"}}],"mark":{"type":"rule","strokeWidth":0.9},
"encoding":{"x":{"field":"t","type":"quantitative","scale":{"domain":[0.4,2.6],"nice":false,"zero":false},"axis":null},"y":{"field":"lo","type":"quantitative","title":["Standardized","epitope hits"]},"y2":{"field":"hi"},
"stroke":{"field":"g","type":"nominal","scale":{"domain":["Cntl A","Cntl B","Cntl C","MV neg","MMR vac","MV mild","MV severe"],"range":["#6e6e6e","#6e6e6e","#6e6e6e","#2f6b1e","#173f70","#7d1d1f","#7d1d1f"]},"legend":null}}},
{"transform":[{"filter":{"field":"s","equal":"box"}}],"mark":{"type":"bar","size":3.6,"fill":"#ffffff","stroke":"#444444","strokeWidth":0.7},
"encoding":{"x":{"field":"t","type":"quantitative","scale":{"domain":[0.4,2.6],"nice":false,"zero":false},"axis":null},"y":{"field":"q1","type":"quantitative","title":["Standardized","epitope hits"]},"y2":{"field":"q3"}}},
{"transform":[{"filter":{"field":"s","equal":"box"}}],"mark":{"type":"line","color":"#000000","strokeWidth":1.6,"point":{"filled":true,"size":8,"color":"#000000","shape":"square"}},
"encoding":{"x":{"field":"t","type":"quantitative","scale":{"domain":[0.4,2.6],"nice":false,"zero":false},"axis":null},"y":{"field":"med","type":"quantitative","title":["Standardized","epitope hits"]}}},
{"transform":[{"filter":{"field":"s","equal":"sig"}}],"mark":{"type":"text","fontSize":7,"color":"#555555"},
"encoding":{"text":{"field":"lab","type":"nominal"},"y":{"datum":3.4,"type":"quantitative","title":["Standardized","epitope hits"]}}}
],
"resolve":{"scale":{"x":"independent"}}}
},
{
"spacing":2,
"vconcat":[
{
"data":{"name":"mid"},
"facet":{"column":{"field":"g","type":"nominal","sort":["Cntl A","Cntl B","Cntl C","MV neg","MMR vac","MV mild","MV severe"],"header":null}},
"spacing":5.5,
"bounds":"flush",
"spec":{"width":37,"height":80.8,
"layer":[
{"mark":{"type":"rule","color":"#b3b3b3","strokeWidth":1.3},
"encoding":{"y":{"datum":1,"type":"quantitative","title":["Fold-change","epitope hits"],"scale":{"type":"log","base":2,"domain":[0.44,2.24],"nice":false},"axis":{"values":[0.5,0.7071,1,1.4142,2],"labelExpr":"datum.value == 0.5 || datum.value == 1 || datum.value == 2 ? format(datum.value, '.1f') : ''","titleX":-40,"titleBaseline":"middle","labelPadding":4}}}},
{"transform":[{"filter":{"field":"s","equal":"fc"}}],"mark":{"type":"boxplot","extent":"min-max","size":17,"box":{"fillOpacity":0.28,"strokeWidth":0.8},"rule":{"strokeWidth":0.8},"median":{"thickness":1},"ticks":false,"outliers":false},
"encoding":{"x":{"field":"g","type":"nominal","axis":null,"scale":{"paddingOuter":0.5,"paddingInner":0}},"y":{"field":"f","type":"quantitative","title":["Fold-change","epitope hits"]},
"fill":{"field":"g","type":"nominal","scale":{"domain":["Cntl A","Cntl B","Cntl C","MV neg","MMR vac","MV mild","MV severe"],"range":["#a8a8a8","#a8a8a8","#a8a8a8","#5aa83c","#2f6db3","#c8393b","#c8393b"]},"legend":null},
"stroke":{"field":"g","type":"nominal","scale":{"domain":["Cntl A","Cntl B","Cntl C","MV neg","MMR vac","MV mild","MV severe"],"range":["#a8a8a8","#a8a8a8","#a8a8a8","#5aa83c","#2f6db3","#c8393b","#c8393b"]},"legend":null}}},
{"transform":[{"filter":{"field":"s","equal":"fc"}}],"mark":{"type":"point","filled":true,"size":7,"opacity":0.95},
"encoding":{"x":{"field":"g","type":"nominal","axis":null},"xOffset":{"field":"i","type":"nominal","scale":{"paddingOuter":0.3}},"y":{"field":"f","type":"quantitative","title":["Fold-change","epitope hits"]},
"color":{"field":"g","type":"nominal","scale":{"domain":["Cntl A","Cntl B","Cntl C","MV neg","MMR vac","MV mild","MV severe"],"range":["#a8a8a8","#a8a8a8","#a8a8a8","#5aa83c","#2f6db3","#c8393b","#c8393b"]},"legend":null}}},
{"transform":[{"filter":{"field":"s","equal":"sig"}}],"mark":{"type":"text","fontSize":7,"color":"#555555"},
"encoding":{"text":{"field":"lab","type":"nominal"},"y":{"datum":1.83}}}
]},
"resolve":{"scale":{"x":"independent","xOffset":"independent"}}
},
{
"data":{"name":"bot"},
"facet":{"column":{"field":"g","type":"nominal","sort":["Cntl A","Cntl B","Cntl C","MV neg","MMR vac","MV mild","MV severe"],"header":null}},
"spacing":5.5,
"bounds":"flush",
"spec":{"width":37,"height":42,
"layer":[
{"transform":[{"filter":{"field":"s","equal":"h"}}],"mark":{"type":"line","strokeWidth":0.8,"opacity":0.6},
"encoding":{"x":{"field":"t","type":"quantitative","title":null,"scale":{"domain":[0.4,2.6],"nice":false,"zero":false},"axis":{"values":[1,2],"format":"d","labelFontSize":10.5,"labelColor":"#333333","labelPadding":3,"grid":false}},
"y":{"field":"h","type":"quantitative","title":["MV","hits"],"scale":{"domain":[0,41],"nice":false},"axis":{"values":[0,10,20,30],"labelExpr":"datum.value == 0 || datum.value == 30 ? datum.label : ''","titleX":-40,"titleBaseline":"middle","labelPadding":4}},
"detail":{"field":"i","type":"nominal"},
"color":{"field":"g","type":"nominal","scale":{"domain":["Cntl A","Cntl B","Cntl C","MV neg","MMR vac","MV mild","MV severe"],"range":["#cdcdcd","#cdcdcd","#cdcdcd","#5aa83c","#3a78be","#d04545","#d04545"]},"legend":null}}},
{"transform":[{"filter":{"field":"s","equal":"h"}}],"mark":{"type":"line","color":"#000000","strokeWidth":2.4},
"encoding":{"x":{"field":"t","type":"quantitative","title":null},"y":{"aggregate":"median","field":"h","type":"quantitative","title":["MV","hits"]}}},
{"transform":[{"filter":{"field":"s","equal":"sig"}}],"mark":{"type":"text","fontSize":7,"color":"#555555"},
"encoding":{"text":{"field":"lab","type":"nominal"},"y":{"datum":35}}}
]}
}
]
}
]
}
